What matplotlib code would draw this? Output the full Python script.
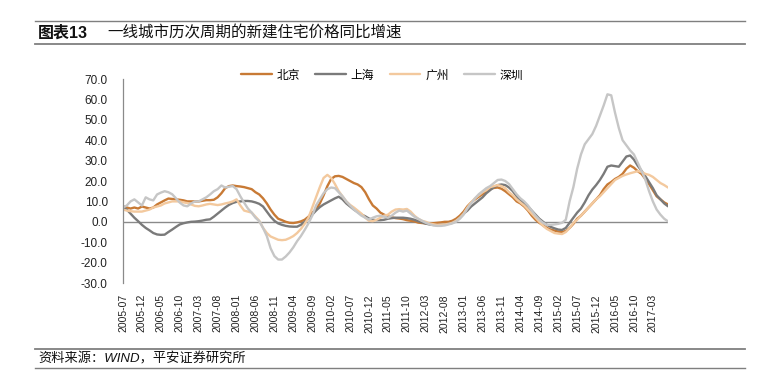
import matplotlib
matplotlib.use("Agg")
import matplotlib.pyplot as plt
from matplotlib.lines import Line2D
import pandas as pd

plt.rcParams['font.family'] = ['Liberation Sans', 'Noto Sans CJK SC', 'DejaVu Sans']

# monthly yoy growth of new home prices, 2005-07 .. 2017-07
beijing = [7.6, 7, 6.5, 7, 6.5, 7.5, 7, 6.5, 7, 8.5,
           9.5, 10.5, 11.4, 11.2, 11, 10.8, 10.5, 10, 10, 10,
           10, 10.3, 10.6, 10.6, 10.8, 12, 14, 16.5, 17.5, 17.8,
           17.5, 17.3, 17, 16.5, 16, 14.5, 13.4, 11.5, 9, 6,
           3.5, 1.5, 0.8, 0, -0.5, -0.6, -0.3, 0.2, 1, 2.5,
           4.5, 6, 9, 13, 17.5, 21, 22.3, 22.5, 22, 21,
           20, 19, 18.3, 17, 14.5, 11, 8, 6.5, 4.5, 3.5,
           2.7, 2.2, 1.8, 1.6, 1.3, 0.8, 0.5, 0.2, -0.4, -0.6,
           -0.8, -0.8, -0.7, -0.5, -0.3, 0, 0, 0.5, 1.5, 3,
           5, 7.6, 9.5, 11, 12.3, 13.5, 15, 16, 16.6, 16.8,
           16.2, 15, 13.5, 12, 10, 9, 7.5, 5.5, 3, 1,
           -0.5, -1.8, -3, -3.8, -4.3,
           -4.8, -5, -4.5, -3, -1, 1.5, 3, 5, 7, 9,
           11, 13, 16, 18.3, 19.5, 21, 22, 23.5, 26, 27.6,
           26.5, 24.8, 23.5, 21, 18.5, 15.5, 12.5, 11, 9.5, 8.5]
shanghai = [7, 6, 4, 2, 0.3, -1.5, -3, -4.2, -5.5, -6.2,
            -6.4, -6.3, -5, -3.8, -2.5, -1.3, -0.7, -0.3, 0, 0.1,
            0.3, 0.6, 1, 1.2, 2.5, 4, 5.5, 7, 8.3, 9.2,
            9.8, 10, 10.2, 10.2, 10, 9.5, 8.8, 7.5, 5, 2.5,
            0.5, -0.8, -1.5, -2, -2.3, -2.4, -2.4, -1.5, 0, 1.5,
            3.5, 5.5, 7.2, 8.5, 9.5, 10.5, 11.5, 12.3, 11, 9,
            7.5, 6, 4.8, 3.6, 2.7, 1.6, 1, 0.8, 0.8, 1,
            1.5, 1.8, 2, 2, 2, 1.8, 1.5, 1, 0.3, -0.3,
            -0.9, -1.3, -1.5, -1.6, -1.5, -1.3, -1, -0.5, 0.5, 2,
            4, 5.5, 7.5, 9, 10.5, 12, 14, 15.5, 17, 18,
            18.3, 18, 16.8, 15, 12.5, 10.5, 9, 7.5, 5.5, 3.5,
            1.5, 0, -1.5, -2.5, -3.2,
            -3.8, -4, -3, -0.5, 2, 4.5, 6.5, 9.5, 13, 15.8,
            18, 20.5, 23.5, 27, 27.6, 27.3, 27, 29.5, 32, 32.5,
            30.5, 27.5, 25, 22.4, 19.5, 16.5, 13, 11, 9, 7.6]
guangzhou = [6, 5.5, 5.2, 5, 5, 5, 5.5, 6, 7, 7.5,
             8, 9, 9.5, 10, 10, 10, 9.5, 9.2, 8.5, 7.8,
             7.6, 8, 8.5, 8.8, 8.5, 8.2, 8.5, 9, 9.4, 10,
             11, 8, 5.5, 5, 4.5, 2.5, 0.5, -3, -5.5, -7.2,
             -8, -8.8, -9, -8.8, -8, -7, -5.5, -3.5, -1, 2,
             7, 12, 17, 21.5, 23, 21.5, 18.5, 15, 12.5, 10,
             8.3, 7, 5.5, 4, 2, 0.5, 0.3, 1, 2, 3,
             3.5, 5, 6, 6.2, 6, 6.3, 5, 3, 1.5, 0.5,
             0, -0.8, -1.2, -1.5, -1.5, -1.3, -1, -0.5, 0.5, 2,
             4, 7, 9.5, 11.5, 13, 14.5, 15.5, 17, 17.5, 18,
             17.5, 16.5, 14.5, 13, 11, 9.5, 8, 6, 4, 2,
             0, -2, -3.5, -4.5, -5.5,
             -5.8, -6, -5, -3, -0.5, 1, 3, 5, 7, 9,
             11, 12.5, 14.5, 16.5, 18.5, 20.5, 21.5, 22.5, 23.2, 23.8,
             24.3, 24.8, 24.5, 23.5, 23, 22, 20.5, 19, 18, 16.8]
shenzhen = [7, 8, 10, 11, 9.5, 8, 12, 11, 10.5, 13.4,
            14.3, 15, 14.5, 13.5, 11.5, 9.4, 8, 7.6, 9, 10,
            10, 11, 12, 13.4, 15, 16, 17.8, 16.8, 17.2, 17.5,
            16, 12.5, 9.4, 6.5, 4.5, 2, 0.3, -3, -7, -13,
            -16.8, -18.5, -18.5, -17, -15, -12.5, -9.5, -7, -4, -0.8,
            3, 8, 11, 14, 16, 16.8, 16.5, 14.5, 12.5, 10,
            8, 6, 4.5, 3, 2, 1.1, 2, 2.7, 3, 2.5,
            2, 3, 4.5, 5.5, 5, 5.5, 4, 2.5, 1.5, 0.5,
            -0.5, -1.2, -1.8, -2, -2, -1.8, -1.3, -0.8, 0, 1.5,
            3.5, 6.5, 9, 11.5, 13.5, 15, 16.5, 17.5, 19, 20.5,
            20.7, 20, 18.5, 16, 13.5, 11.5, 10, 8, 5.5, 3,
            1, -0.5, -1.5, -1.5, -1.3,
            -1, -0.5, 1, 10, 17, 26, 33, 38, 40.5, 43,
            47, 52, 57, 62.5, 62, 53.5, 46, 40, 37.5, 35,
            33, 29, 25, 20.7, 15, 10, 6, 3.5, 1.5, 0.2]

names = ["北京", "上海", "广州", "深圳"]
colors = ["#c87a35", "#7a7a7a", "#f3c99e", "#c6c6c6"]
months = pd.period_range("2005-07", periods=len(beijing), freq="M").strftime("%Y-%m")

W, H = 760, 386
fig = plt.figure(figsize=(W / 100, H / 100), dpi=100)
ax = fig.add_axes([123 / W, (H - 283) / H, 545 / W, 204 / H])

x = range(len(months))
for vals, name, c in zip([beijing, shanghai, guangzhou, shenzhen], names, colors):
    ax.plot(x, vals, color=c, lw=1.7, label=name, solid_capstyle="round")

ax.axhline(0, color="#8a8a8a", lw=1, zorder=0)
ax.set_xlim(0, len(months) - 1)
ax.set_ylim(-30, 70)
for s in ["top", "right", "bottom"]:
    ax.spines[s].set_visible(False)
ax.spines["left"].set_color("#8a8a8a")
ax.spines["left"].set_linewidth(0.9)

yt = list(range(-30, 71, 10))
ax.set_yticks(yt)
ax.set_yticklabels([f"{v:.1f}" for v in yt], fontsize=8.5, color="#222222")
ax.set_xticks(list(x)[::5])
ax.set_xticklabels(list(months)[::5], rotation=90, fontsize=7.5, color="#222222")
ax.tick_params(axis="y", length=0, pad=11)
ax.tick_params(axis="x", length=0, pad=8)

fig.legend(loc="center", bbox_to_anchor=(382 / W, 1 - 75.5 / H), ncol=4, frameon=False,
           fontsize=8.5, handlelength=2.6, columnspacing=1.3, handletextpad=0.4)

# header and footer
fig.text(38 / W, 1 - 33 / H, "图表13", fontsize=11.5, fontweight="bold", va="center", color="#111111")
fig.text(107 / W, 1 - 33 / H, "一线城市历次周期的新建住宅价格同比增速", fontsize=11.2,
         va="center", color="#111111")
fig.text(38 / W, 1 - 358.5 / H, "资料来源：WIND，平安证券研究所", fontsize=9.5, va="center",
         style="italic", color="#111111")
for yy, lw in [(20.7, 1.0), (44.3, 1.3), (349.3, 1.3), (368.3, 1.0)]:
    fig.add_artist(Line2D([35 / W, 745 / W], [1 - yy / H] * 2, color="#7f7f7f", lw=lw))

fig.savefig("out.png", dpi=100)
